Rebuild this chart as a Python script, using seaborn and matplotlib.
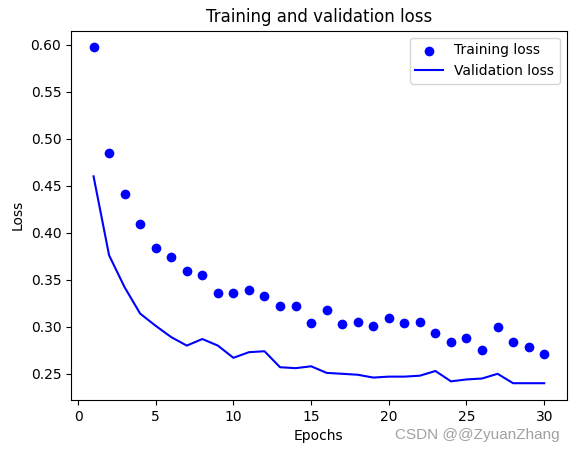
import numpy as np
import pandas as pd
import matplotlib
matplotlib.use("Agg")
import matplotlib.pyplot as plt
import seaborn as sns

# DATA

epochs = list(range(1, 31))
train_loss = [0.597, 0.485, 0.441, 0.409, 0.384, 0.374, 0.359, 0.355, 0.336, 0.336,
              0.339, 0.333, 0.322, 0.322, 0.304, 0.318, 0.303, 0.305, 0.301, 0.309,
              0.304, 0.305, 0.293, 0.284, 0.288, 0.275, 0.300, 0.284, 0.279, 0.271]
val_loss = [0.460, 0.376, 0.342, 0.314, 0.301, 0.289, 0.280, 0.287, 0.280, 0.267,
            0.273, 0.274, 0.257, 0.256, 0.258, 0.251, 0.250, 0.249, 0.246, 0.247,
            0.247, 0.248, 0.253, 0.242, 0.244, 0.245, 0.250, 0.240, 0.240, 0.240]

df = pd.DataFrame({"Epochs": epochs, "train": train_loss, "val": val_loss})

# PLOT

fig = plt.figure(figsize=(5.76, 4.53), dpi=100)
ax = fig.add_axes([0.1233, 0.117, 0.8606, 0.8152])

sns.scatterplot(data=df, x="Epochs", y="train", color="blue", s=49,
                linewidth=0, label="Training loss", ax=ax)
sns.lineplot(data=df, x="Epochs", y="val", color="blue", linewidth=1.5,
             label="Validation loss", ax=ax)

ax.set_title("Training and validation loss")
ax.set_xlabel("Epochs")
ax.set_ylabel("Loss")
ax.legend(loc="upper right")

# watermark
fig.text(0.972, 0.04, "CSDN @@ZyuanZhang", ha="right", va="center",
         color="#a0a0a0", fontsize=11, family="Liberation Sans")

fig.savefig("out.png", dpi=100)
